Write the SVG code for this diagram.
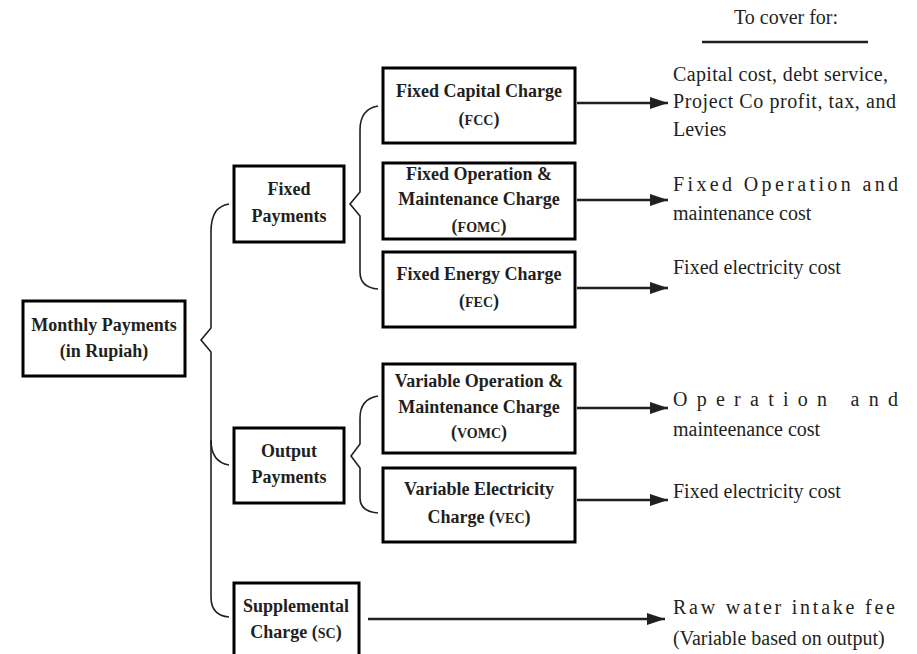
<svg xmlns="http://www.w3.org/2000/svg" width="917" height="654" viewBox="0 0 917 654">
<style>
.box{fill:#fff;stroke:#000;stroke-width:3}
.bt{font-family:"Liberation Serif",serif;font-weight:bold;font-size:18px;fill:#231f20;text-anchor:middle}
.sc{font-size:14px}
.rt{font-family:"Liberation Serif",serif;font-size:20px;fill:#231f20}
.br{fill:none;stroke:#231f20;stroke-width:1.6}
.ar{fill:none;stroke:#231f20;stroke-width:2.5}
</style>
<defs>
<marker id="ah" markerUnits="userSpaceOnUse" markerWidth="18" markerHeight="12" refX="18" refY="6" orient="auto">
<path d="M0,0 L18,6 L0,12 z" fill="#231f20"/>
</marker>
</defs>
<g id="header">
<text class="rt" x="786" y="24" text-anchor="middle">To cover for:</text>
<line x1="702" y1="42" x2="868" y2="42" stroke="#231f20" stroke-width="2.5"/>
</g>
<g id="connectors">
<path class="br" d="M229,204 C217,206 211,214 211,232 L211,328 L201,340 L211,352 L211,597 C211,610 217,616 229,617"/>
<path class="br" d="M211,440 C211,455 217,463 229,465"/>
<path class="br" d="M378,106 C366,108 360,116 360,130 L360,192 L350,204 L360,216 L360,272 C360,282 366,288 378,289"/>
<path class="br" d="M378,396 C366,398 360,405 360,418 L360,444 L351,456 L360,468 L360,498 C360,507 366,512 378,513"/>
<line class="ar" x1="577" y1="103" x2="668" y2="103" marker-end="url(#ah)"/>
<line class="ar" x1="577" y1="200" x2="668" y2="200" marker-end="url(#ah)"/>
<line class="ar" x1="577" y1="288" x2="668" y2="288" marker-end="url(#ah)"/>
<line class="ar" x1="577" y1="408" x2="668" y2="408" marker-end="url(#ah)"/>
<line class="ar" x1="577" y1="500" x2="668" y2="500" marker-end="url(#ah)"/>
<line class="ar" x1="368" y1="619" x2="665" y2="619" marker-end="url(#ah)"/>
</g>
<g id="monthly">
<rect class="box" x="23" y="301" width="162" height="75"/>
<text class="bt" x="104" y="331">Monthly Payments</text>
<text class="bt" x="104" y="357">(in Rupiah)</text>
</g>
<g id="fixed-payments">
<rect class="box" x="234" y="166" width="110" height="76"/>
<text class="bt" x="289" y="195">Fixed</text>
<text class="bt" x="289" y="222">Payments</text>
</g>
<g id="output-payments">
<rect class="box" x="234" y="428" width="110" height="75"/>
<text class="bt" x="289" y="457">Output</text>
<text class="bt" x="289" y="483">Payments</text>
</g>
<g id="supplemental">
<rect class="box" x="234" y="583" width="125" height="76"/>
<text class="bt" x="296" y="612">Supplemental</text>
<text class="bt" x="296" y="638">Charge (<tspan class="sc">SC</tspan>)</text>
</g>
<g id="fcc">
<rect class="box" x="383" y="68" width="192" height="75"/>
<text class="bt" x="479" y="97">Fixed Capital Charge</text>
<text class="bt" x="479" y="125">(<tspan class="sc">FCC</tspan>)</text>
</g>
<g id="fomc">
<rect class="box" x="383" y="163" width="192" height="76"/>
<text class="bt" x="479" y="180">Fixed Operation &amp;</text>
<text class="bt" x="479" y="205">Maintenance Charge</text>
<text class="bt" x="479" y="232">(<tspan class="sc">FOMC</tspan>)</text>
</g>
<g id="fec">
<rect class="box" x="383" y="252" width="192" height="75"/>
<text class="bt" x="479" y="280">Fixed Energy Charge</text>
<text class="bt" x="479" y="307">(<tspan class="sc">FEC</tspan>)</text>
</g>
<g id="vomc">
<rect class="box" x="383" y="364" width="192" height="89"/>
<text class="bt" x="479" y="387">Variable Operation &amp;</text>
<text class="bt" x="479" y="413">Maintenance Charge</text>
<text class="bt" x="479" y="438">(<tspan class="sc">VOMC</tspan>)</text>
</g>
<g id="vec">
<rect class="box" x="383" y="468" width="192" height="74"/>
<text class="bt" x="479" y="495">Variable Electricity</text>
<text class="bt" x="479" y="523">Charge (<tspan class="sc">VEC</tspan>)</text>
</g>
<g id="fcc-cover">
<text class="rt" x="673" y="81" textLength="215" lengthAdjust="spacing">Capital cost, debt service,</text>
<text class="rt" x="673" y="108" textLength="223" lengthAdjust="spacing">Project Co profit, tax, and</text>
<text class="rt" x="673" y="136">Levies</text>
</g>
<g id="fomc-cover">
<text class="rt" x="673" y="191" textLength="225" lengthAdjust="spacing">Fixed Operation and</text>
<text class="rt" x="673" y="220">maintenance cost</text>
</g>
<g id="fec-cover">
<text class="rt" x="673" y="274">Fixed electricity cost</text>
</g>
<g id="vomc-cover">
<text class="rt" x="673" y="406" textLength="225" lengthAdjust="spacing">Operation and</text>
<text class="rt" x="673" y="436">mainteenance cost</text>
</g>
<g id="vec-cover">
<text class="rt" x="673" y="498">Fixed electricity cost</text>
</g>
<g id="sc-cover">
<text class="rt" x="673" y="614" textLength="222" lengthAdjust="spacing">Raw water intake fee</text>
<text class="rt" x="673" y="645">(Variable based on output)</text>
</g>
</svg>
